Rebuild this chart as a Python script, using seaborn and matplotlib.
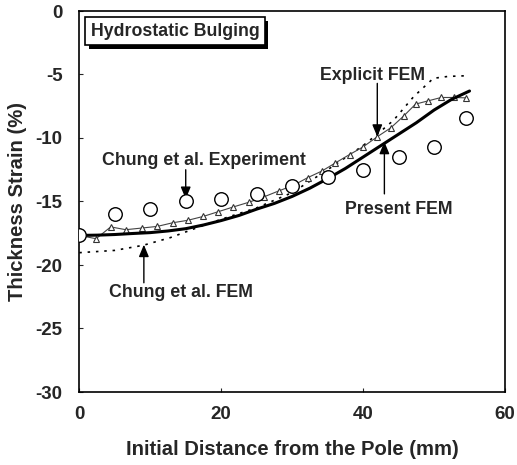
import matplotlib
matplotlib.use("Agg")
import matplotlib.pyplot as plt
import matplotlib.patheffects as pe
import seaborn as sns
import pandas as pd

# Data
exp_x = [0, 5, 10, 15, 20, 25, 30, 35, 40, 45, 50, 54.5]
exp_y = [-17.67, -15.96, -15.6, -15.0, -14.8, -14.4, -13.75, -13.1, -12.5, -11.5, -10.7, -8.46]

present_x = [0, 2.5, 5, 7.5, 10, 12.5, 15, 17.5, 20, 22.5, 25, 27.5, 30, 32.5, 35, 37.5, 40, 42.5, 45, 47.5, 50, 52.5, 55]
present_y = [-17.67, -17.65, -17.6, -17.52, -17.45, -17.32, -17.14, -16.85, -16.5, -16.1, -15.6, -15.15, -14.6, -13.95, -13.2, -12.4, -11.5, -10.6, -9.7, -8.8, -7.8, -6.95, -6.3]

explicit_x = [0, 2.36, 4.43, 6.55, 8.81, 11.0, 13.2, 15.3, 17.5, 19.6, 21.7, 23.9, 26.0, 28.1, 30.2, 32.2, 34.2, 36.1, 38.1, 40.0, 42.0, 43.9, 45.7, 47.4, 49.2, 51.0, 52.8, 54.5]
explicit_y = [-17.67, -17.93, -17.0, -17.22, -17.09, -16.96, -16.67, -16.48, -16.17, -15.8, -15.43, -15.06, -14.64, -14.17, -13.72, -13.12, -12.6, -11.96, -11.3, -10.7, -9.9, -9.2, -8.28, -7.33, -7.07, -6.81, -6.81, -6.84]

chung_fem_x = [0, 5, 9, 12.8, 17.5, 20, 25, 30, 35, 40, 42, 44.3, 47.1, 49.9, 52, 54.5]
chung_fem_y = [-19.03, -18.85, -18.45, -17.85, -16.88, -16.4, -15.5, -14.3, -12.5, -10.6, -9.7, -8.6, -6.76, -5.3, -5.15, -5.1]

xticks = [0, 20, 40, 60]
yticks = [0, -5, -10, -15, -20, -25, -30]

sns.set_theme(style="ticks")
plt.rcParams['font.family'] = ['Liberation Sans', 'DejaVu Sans']
plt.rcParams['font.weight'] = 'bold'

fig = plt.figure(figsize=(5.17, 4.65), dpi=100)
ax = fig.add_axes([79.3 / 517, (465 - 392) / 465, (505 - 79.3) / 517, (392 - 11) / 465])

df_chung = pd.DataFrame({"x": chung_fem_x, "y": chung_fem_y})
df_present = pd.DataFrame({"x": present_x, "y": present_y})
df_explicit = pd.DataFrame({"x": explicit_x, "y": explicit_y})
df_exp = pd.DataFrame({"x": exp_x, "y": exp_y})

sns.lineplot(data=df_chung, x="x", y="y", ax=ax, color="black", lw=1.2,
             linestyle=(0, (1.5, 3.5)), sort=False)
sns.lineplot(data=df_explicit, x="x", y="y", ax=ax, color="#444444", lw=0.8,
             marker="^", markersize=4, markerfacecolor="white",
             markeredgecolor="#333333", markeredgewidth=0.8, sort=False)
sns.lineplot(data=df_present, x="x", y="y", ax=ax, color="black", lw=2.2, sort=False)
sns.scatterplot(data=df_exp, x="x", y="y", ax=ax, s=95, facecolor="white",
                edgecolor="black", linewidth=1.0, zorder=5)

ax.set_xlim(0, 60)
ax.set_ylim(-30, 0)
ax.set_xticks(xticks)
ax.set_yticks(yticks)
ax.set_xticklabels([str(t) for t in xticks], fontsize=13.5, fontweight="bold")
ax.set_yticklabels([str(t) for t in yticks], fontsize=13.5, fontweight="bold")
ax.tick_params(axis="x", direction="in", length=3, width=0.8, pad=10)
ax.tick_params(axis="y", direction="in", length=3, width=0.8, pad=12)
for s in ax.spines.values():
    s.set_visible(True)
    s.set_linewidth(1.2)
    s.set_color("black")

ax.set_xlabel("Initial Distance from the Pole (mm)", fontsize=14.6, fontweight="bold", labelpad=12)
ax.set_ylabel("Thickness Strain (%)", fontsize=14.6, fontweight="bold", labelpad=6)

# Title box with shadow
t = ax.text(1.6, -1.6, "Hydrostatic Bulging", fontsize=12.8, fontweight="bold",
            ha="left", va="center",
            bbox=dict(boxstyle="square,pad=0.3", facecolor="white", edgecolor="black", lw=1.2))
t.get_bbox_patch().set_path_effects([
    pe.SimplePatchShadow(offset=(2.5, -2.5), shadow_rgbFace="black", alpha=1.0),
    pe.Normal()])

arrowprops = dict(arrowstyle="-|>,head_width=0.25,head_length=0.6", color="black", lw=1.0, shrinkA=0, shrinkB=0)
ax.text(17.5, -11.8, "Chung et al. Experiment", fontsize=12.8, fontweight="bold",
        ha="center", va="center")
ax.annotate("", xy=(15, -14.8), xytext=(15, -12.5), arrowprops=arrowprops)

ax.text(41.4, -5.05, "Explicit FEM", fontsize=12.8, fontweight="bold", ha="center", va="center")
ax.annotate("", xy=(42, -9.9), xytext=(42, -5.7), arrowprops=arrowprops)

ax.text(45, -15.6, "Present FEM", fontsize=12.8, fontweight="bold", ha="center", va="center")
ax.annotate("", xy=(43, -10.3), xytext=(43, -14.4), arrowprops=arrowprops)

ax.text(14.4, -22.2, "Chung et al. FEM", fontsize=12.8, fontweight="bold", ha="center", va="center")
ax.annotate("", xy=(9.1, -18.4), xytext=(9.1, -21.4), arrowprops=arrowprops)

fig.savefig("out.png", dpi=100)
